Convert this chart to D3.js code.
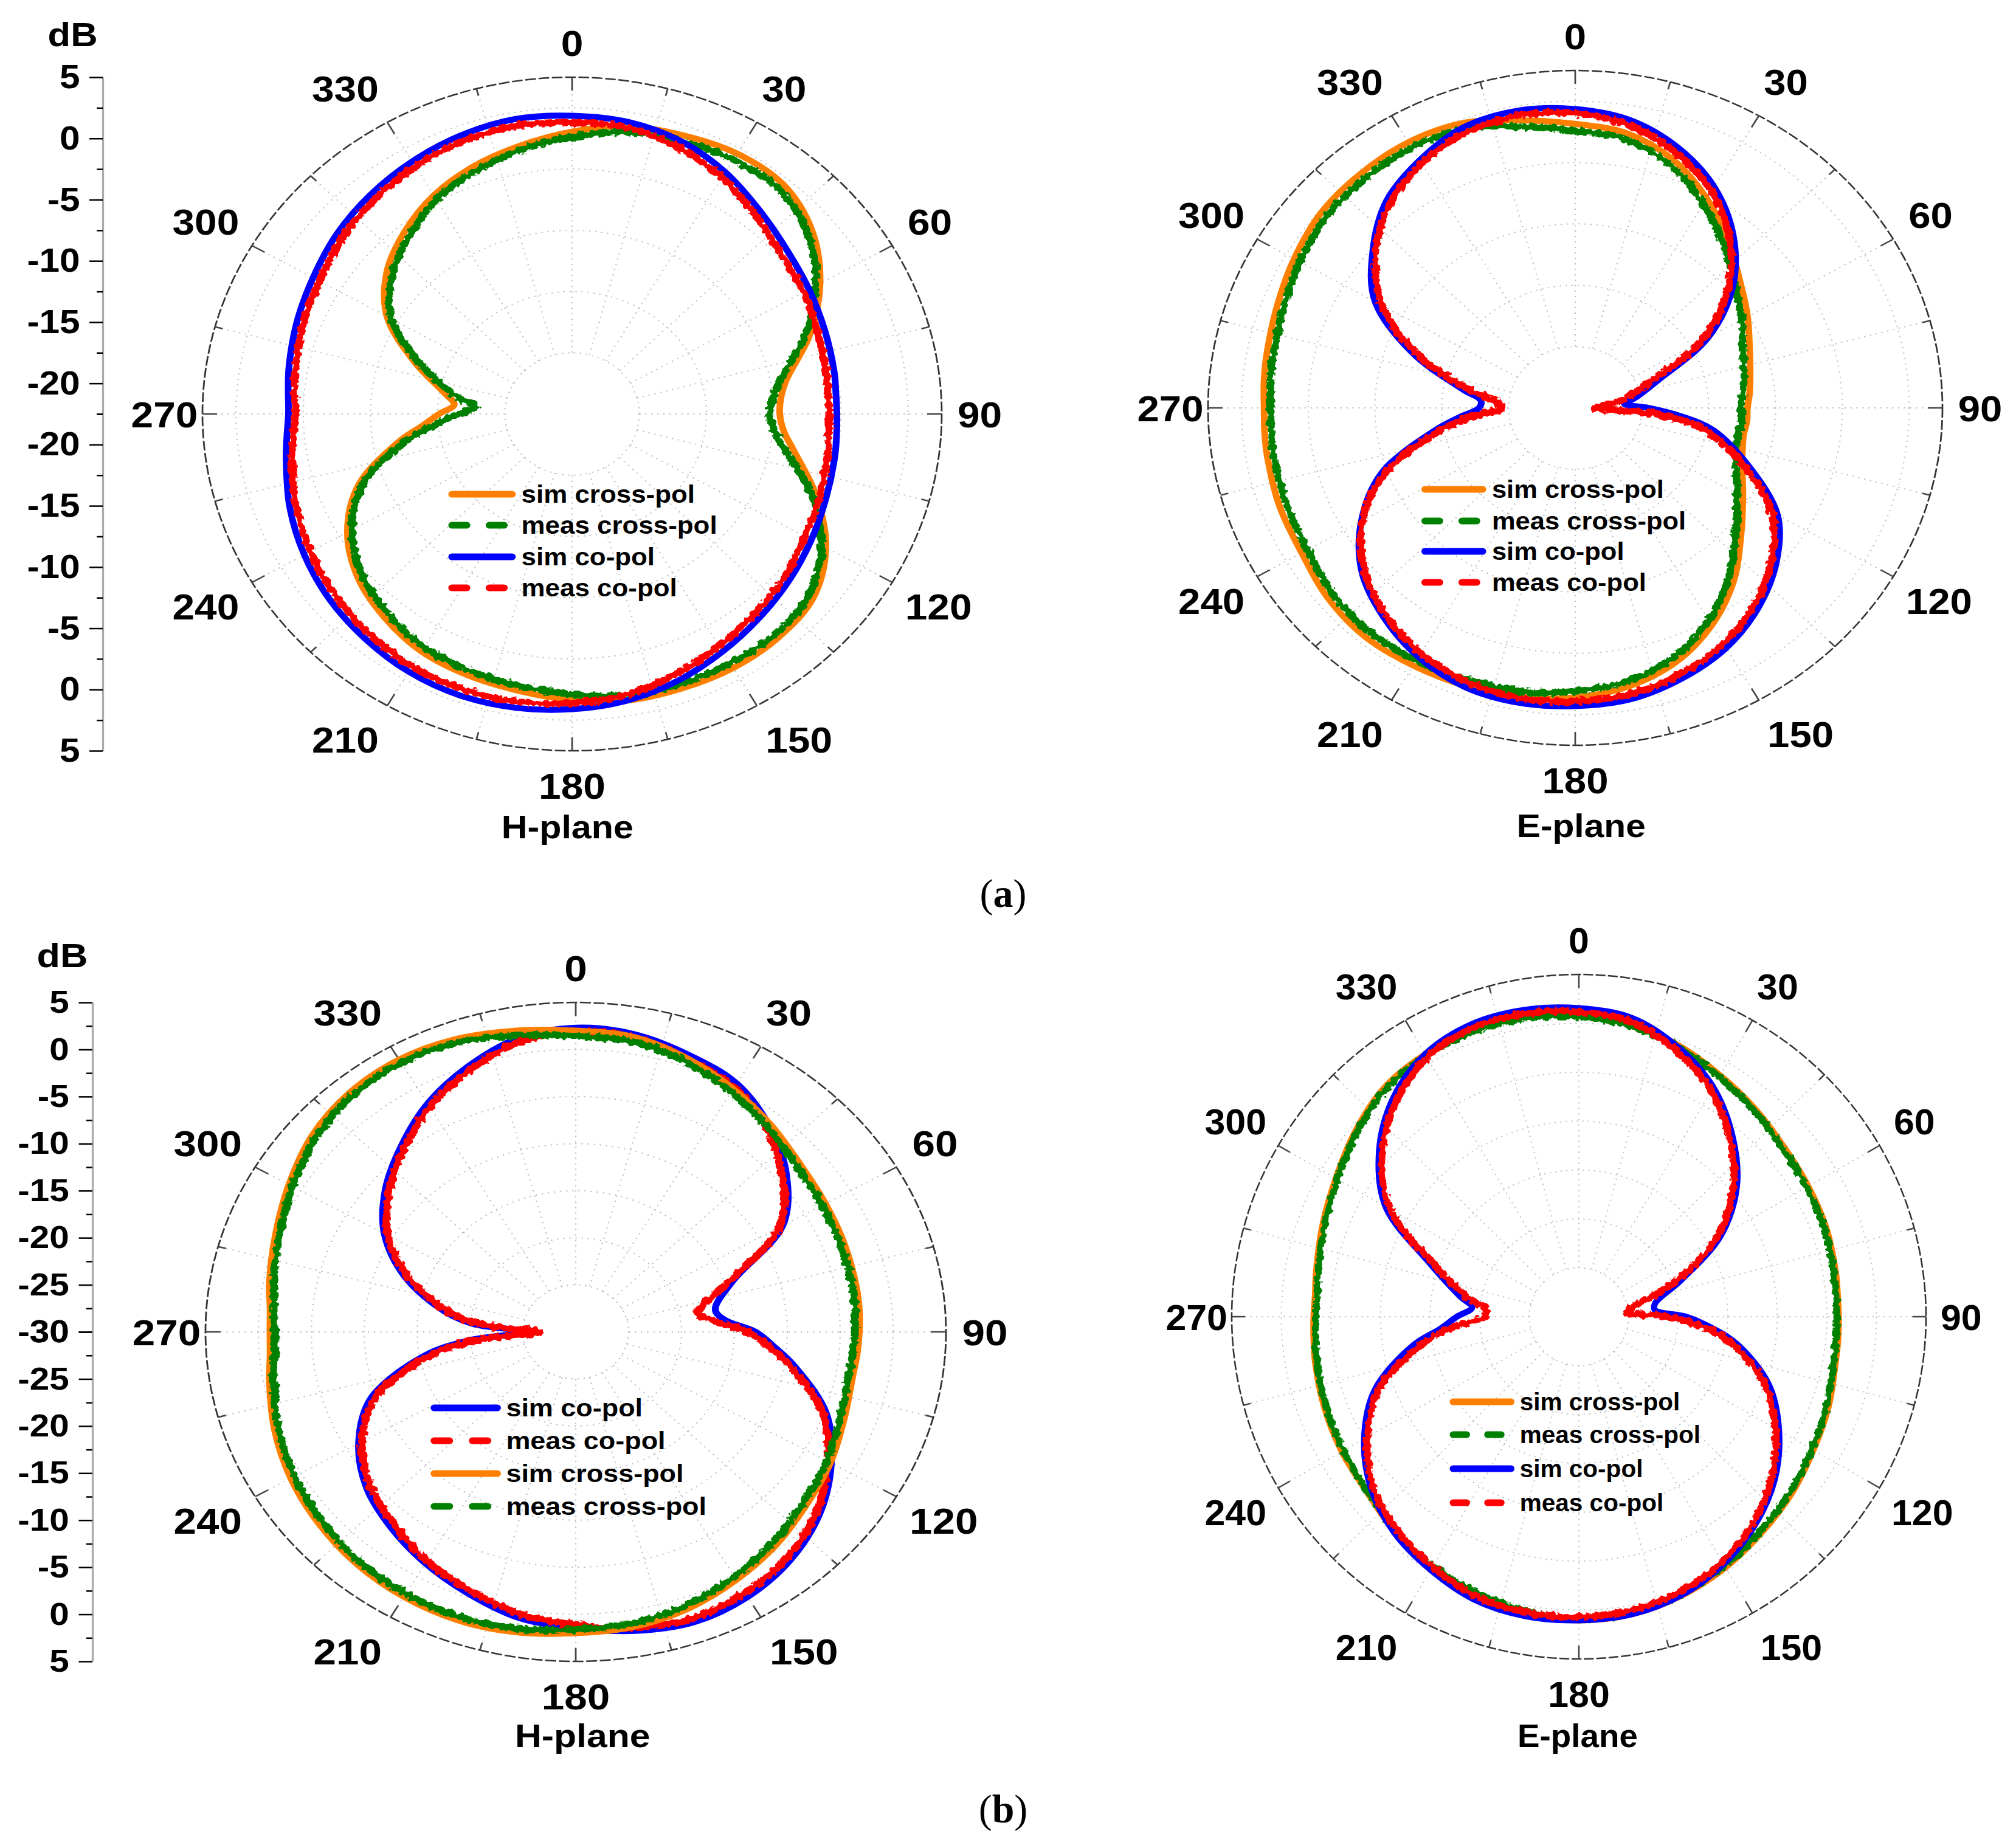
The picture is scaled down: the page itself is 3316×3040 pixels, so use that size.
<!DOCTYPE html>
<html>
<head>
<meta charset="utf-8">
<script src="https://cdn.jsdelivr.net/npm/d3@7.9.0/dist/d3.min.js"></script>
<style>
  body { margin: 0; background: #fff; }
  text { font-family: "Liberation Sans", Arial, sans-serif; font-weight: bold; fill: #000; }
  .cap { font-family: "Liberation Serif", "Times New Roman", serif; font-weight: normal; }
</style>
</head>
<body>
<svg id="chart" width="3316" height="3040"></svg>
<script>
// angles (deg) shared by every series, finer around the nulls
const angles = [0,10,20,30,40,50,60,70,80,85,90,95,100,110,120,130,140,150,160,170,180,
  190,200,210,220,230,240,250,260,265,270,275,280,290,300,310,320,330,340,350];

// (a) H-plane, dB
const aH_simCross  = [0.55,1.35,1.7,2.05,1.95,0.8,-1.2,-3.7,-6.3,-6.9,-7.05,-6.7,-5.8,-3.2,-0.7,0.9,1.35,1.45,1.35,1.25,0.85,
  0.45,0.2,-0.1,-0.8,-1.7,-3.2,-5.6,-9.4,-11.3,-12.6,-13.7,-12.9,-10.0,-6.6,-4.5,-3.1,-1.9,-1.0,-0.25];
const aH_measCross = [0.1,0.9,1.2,1.5,1.45,0.4,-1.6,-4.1,-6.8,-7.5,-7.8,-7.4,-6.5,-3.6,-1.1,0.5,1.0,1.0,0.95,0.85,0.4,
  0.05,-0.2,-0.5,-1.2,-2.1,-3.6,-6.0,-10.0,-12.2,-14.0,-15.3,-13.6,-10.5,-7.0,-5.0,-3.6,-2.3,-1.4,-0.6];
const aH_simCo     = [1.85,1.7,1.2,0.3,-0.8,-1.65,-2.15,-2.5,-2.7,-2.8,-2.8,-2.75,-2.65,-2.4,-1.95,-1.4,-0.8,-0.1,0.65,1.25,1.6,
  1.85,1.95,1.8,1.45,1.05,0.5,-0.15,-0.9,-1.2,-1.4,-1.3,-1.1,-0.7,-0.25,0.35,0.85,1.3,1.7,1.95];
const aH_measCo    = [1.3,1.25,0.65,-0.2,-1.3,-2.2,-2.6,-3.05,-3.3,-3.4,-3.35,-3.3,-3.2,-2.9,-2.5,-1.85,-1.3,-0.65,0.1,0.8,1.1,
  1.35,1.4,1.3,0.95,0.5,0.0,-0.65,-1.35,-1.7,-1.9,-1.8,-1.6,-1.2,-0.8,-0.15,0.35,0.85,1.2,1.4];

// (a) E-plane
const aE_simCross  = [0.65,0.2,-1.0,-2.8,-4.7,-6.4,-7.6,-8.6,-9.2,-9.4,-9.6,-9.6,-9.7,-9.2,-8.0,-6.3,-4.05,-2.05,-0.45,0.55,1.1,
  1.45,1.6,1.75,1.9,1.65,1.15,1.05,0.9,0.85,0.8,0.9,1.0,1.3,1.8,2.3,2.45,2.5,2.2,1.3];
const aE_measCross = [0.1,-0.3,-1.5,-3.3,-5.2,-6.9,-8.1,-9.1,-9.7,-9.9,-10.1,-10.0,-10.1,-9.7,-8.5,-6.8,-4.6,-2.5,-0.9,0.1,0.6,
  0.95,1.1,1.25,1.35,1.15,0.65,0.5,0.4,0.35,0.3,0.4,0.5,0.8,1.3,1.8,1.95,2.0,1.7,0.8];
const aE_simCo     = [1.85,1.3,0.05,-1.7,-4.1,-7.1,-11.0,-15.9,-18.0,-18.8,-17.0,-14.5,-12.0,-8.7,-5.0,-2.85,-1.2,0.1,0.95,1.6,1.8,
  1.9,1.7,0.95,-0.2,-1.65,-4.0,-7.1,-11.8,-13.8,-15.3,-15.4,-14.0,-9.6,-5.2,-2.7,-0.5,0.8,1.85,2.1];
const aE_measCo    = [1.5,0.9,-0.4,-2.1,-4.5,-7.6,-11.6,-16.8,-19.0,-20.2,-21.0,-16.2,-12.8,-9.2,-5.5,-3.3,-1.6,-0.3,0.55,1.2,1.4,
  1.5,1.25,0.6,-0.45,-1.9,-4.1,-7.5,-12.4,-14.8,-17.0,-16.6,-14.6,-10.0,-5.8,-3.0,-0.85,0.5,1.4,1.7];

// (b) H-plane
const bH_simCross  = [2.0,1.8,0.9,-0.2,-1.3,-2.3,-2.75,-2.95,-3.05,-3.1,-3.2,-3.3,-3.4,-3.0,-2.2,-1.5,-0.5,0.4,1.25,1.8,2.0,
  2.4,2.6,2.5,2.2,1.7,1.1,0.3,-0.6,-1.0,-1.1,-1.0,-0.6,0.2,1.3,2.5,3.2,3.4,3.1,2.5];
const bH_measCross = [1.4,1.3,0.5,-0.6,-1.7,-2.7,-3.1,-3.3,-3.4,-3.5,-3.6,-3.7,-3.8,-3.4,-2.6,-1.9,-0.9,0.0,0.85,1.4,1.6,
  2.0,2.2,2.1,1.8,1.3,0.7,-0.1,-1.0,-1.4,-1.5,-1.4,-1.0,-0.2,0.9,2.1,2.8,3.0,2.7,2.0];
const bH_simCo     = [2.3,2.1,1.3,0.45,-1.5,-4.0,-7.4,-14.2,-16.6,-15.8,-13.0,-11.1,-9.0,-4.8,-2.1,0.1,1.6,2.5,2.8,2.25,1.45,
  0.85,-0.4,-1.6,-2.85,-4.2,-6.3,-9.4,-15.5,-20.0,-25.0,-20.3,-17.4,-12.8,-9.1,-6.5,-4.3,-2.0,-0.05,1.65];
const bH_measCo    = [1.9,1.7,0.8,0.0,-1.9,-4.5,-7.8,-14.6,-18.3,-16.8,-13.8,-11.6,-9.5,-5.2,-2.5,-0.3,1.2,2.0,2.35,1.9,1.1,
  0.4,-0.8,-1.9,-3.3,-4.6,-6.7,-9.9,-16.2,-21.0,-26.5,-21.2,-17.9,-13.2,-9.5,-6.9,-4.7,-2.4,-0.5,1.25];

// (b) E-plane
const bE_simCross  = [0.95,0.4,-0.5,-1.5,-2.3,-3.0,-3.3,-3.45,-3.7,-3.8,-3.8,-3.75,-3.7,-3.2,-2.7,-1.95,-1.25,-0.4,0.35,0.9,1.05,
  0.8,0.25,-0.35,-1.2,-2.1,-2.4,-2.7,-3.0,-3.15,-3.25,-3.3,-3.1,-2.5,-1.7,-0.55,0.55,1.0,1.25,1.2];
const bE_measCross = [0.7,0.2,-0.7,-1.7,-2.5,-3.2,-3.5,-3.65,-3.9,-4.0,-4.0,-3.95,-3.9,-3.4,-2.9,-2.15,-1.45,-0.6,0.15,0.7,0.85,
  0.6,0.05,-0.55,-1.4,-2.2,-2.6,-2.9,-3.2,-3.35,-3.45,-3.5,-3.3,-2.7,-1.9,-0.75,0.35,0.8,1.05,1.0];
const bE_simCo     = [1.55,1.0,-0.7,-2.9,-5.9,-9.2,-13.5,-19.0,-22.2,-22.3,-19.2,-16.5,-13.8,-9.6,-6.7,-4.2,-2.3,-0.8,0.3,0.9,1.05,
  1.1,0.8,-0.1,-1.1,-2.65,-5.0,-8.1,-13.0,-16.0,-17.7,-19.2,-17.8,-14.0,-7.5,-3.7,-0.85,1.0,1.8,1.85];
const bE_measCo    = [1.2,0.6,-1.1,-3.3,-6.3,-9.7,-14.0,-19.8,-24.5,-25.2,-21.0,-17.2,-14.4,-10.1,-7.1,-4.6,-2.6,-1.1,-0.1,0.5,0.7,
  0.7,0.4,-0.5,-1.5,-2.9,-5.4,-8.6,-14.0,-17.0,-20.5,-20.6,-18.6,-14.5,-8.0,-4.1,-1.3,0.6,1.4,1.45];

const angleTicks = d3.range(0, 360, 30);
const styles = {
  simX:   { color: '#ff8000', meas: false, label: 'sim cross-pol' },
  measX:  { color: '#008000', meas: true,  label: 'meas cross-pol' },
  simCo:  { color: '#0000ff', meas: false, label: 'sim co-pol' },
  measCo: { color: '#ff0000', meas: true,  label: 'meas co-pol' },
};

const panels = [
  { cx: 941, cy: 681, rx: 608, ry: 554, min: -22.5, rings: [-17.5, -12.5, -7.5, -2.5, 2.5],
    title: 'H-plane', tx: -7, ty: 679,
    legend: { x0: -185, x1: -85, tx: -76, ys: [132, 183, 235, 286], order: ['simX', 'measX', 'simCo', 'measCo'] },
    order: ['simX', 'measX', 'simCo', 'measCo'],
    data: { simX: aH_simCross, measX: aH_measCross, simCo: aH_simCo, measCo: aH_measCo } },
  { cx: 2591, cy: 671, rx: 604, ry: 555, min: -22.5, rings: [-17.5, -12.5, -7.5, -2.5, 2.5],
    title: 'E-plane', tx: 9, ty: 687,
    legend: { x0: -232, x1: -135, tx: -126, ys: [134, 186, 236, 287], order: ['simX', 'measX', 'simCo', 'measCo'] },
    order: ['simX', 'measX', 'simCo', 'measCo'],
    data: { simX: aE_simCross, measX: aE_measCross, simCo: aE_simCo, measCo: aE_measCo } },
  { cx: 947, cy: 2191, rx: 609, ry: 542, min: -30, rings: [-25, -20, -15, -10, -5, 0],
    title: 'H-plane', tx: 10, ty: 664,
    legend: { x0: -212, x1: -110, tx: -102, ys: [125, 179, 233, 287], order: ['simCo', 'measCo', 'simX', 'measX'] },
    order: ['simCo', 'measCo', 'simX', 'measX'],
    data: { simX: bH_simCross, measX: bH_measCross, simCo: bH_simCo, measCo: bH_measCo } },
  { cx: 2597, cy: 2166, rx: 571, ry: 563, min: -30, rings: [-25, -20, -15, -10, -5, 0],
    title: 'E-plane', tx: -2, ty: 689,
    legend: { x0: -209, x1: -105, tx: -96, ys: [140, 194, 250, 306], order: ['simX', 'measX', 'simCo', 'measCo'] },
    order: ['simX', 'measX', 'simCo', 'measCo'],
    data: { simX: bE_simCross, measX: bE_measCross, simCo: bE_simCo, measCo: bE_measCo } },
];

const svg = d3.select('#chart');

// rough edge for the measured traces
const filt = svg.append('defs').append('filter').attr('id', 'rough')
  .attr('x', '-5%').attr('y', '-5%').attr('width', '110%').attr('height', '110%');
filt.append('feTurbulence').attr('type', 'fractalNoise').attr('baseFrequency', 0.13)
  .attr('numOctaves', 2).attr('seed', 4).attr('result', 'n');
filt.append('feDisplacementMap').attr('in', 'SourceGraphic').attr('in2', 'n')
  .attr('scale', 11).attr('xChannelSelector', 'R').attr('yChannelSelector', 'G');

const aScale = d3.scaleLinear().domain([0, 360]).range([0, 2 * Math.PI]);

function drawPanel(p) {
  const R = p.ry;
  const g = svg.append('g').attr('transform', `translate(${p.cx},${p.cy}) scale(${p.rx / p.ry},1)`);
  const rScale = d3.scaleLinear().domain([p.min, 5]).range([0, R]).clamp(true);

  // dotted grid
  g.append('g').selectAll('circle').data(p.rings).join('circle')
    .attr('r', (d) => rScale(d)).attr('fill', 'none')
    .attr('stroke', '#bdbdbd').attr('stroke-width', 2).attr('stroke-dasharray', '2,7');
  const r0 = rScale(p.rings[0]);
  g.append('g').selectAll('line').data(d3.range(0, 360, 15)).join('line')
    .attr('x1', (d) => d3.pointRadial(aScale(d), r0)[0]).attr('y1', (d) => d3.pointRadial(aScale(d), r0)[1])
    .attr('x2', (d) => d3.pointRadial(aScale(d), R)[0]).attr('y2', (d) => d3.pointRadial(aScale(d), R)[1])
    .attr('stroke', '#bdbdbd').attr('stroke-width', 2).attr('stroke-dasharray', '2,7');

  // outer ring + ticks
  g.append('circle').attr('r', R).attr('fill', 'none').attr('stroke', '#333')
    .attr('stroke-width', 2.5).attr('stroke-dasharray', '16,4');
  g.append('g').selectAll('line').data(d3.range(0, 360, 15)).join('line')
    .attr('x1', (d) => d3.pointRadial(aScale(d), R)[0]).attr('y1', (d) => d3.pointRadial(aScale(d), R)[1])
    .attr('x2', (d) => d3.pointRadial(aScale(d), R - (d % 30 ? 12 : 22))[0])
    .attr('y2', (d) => d3.pointRadial(aScale(d), R - (d % 30 ? 12 : 22))[1])
    .attr('stroke', '#444').attr('stroke-width', 2.5);

  // curves
  const line = d3.lineRadial()
    .angle((d, i) => aScale(angles[i]))
    .radius((d) => rScale(d))
    .curve(d3.curveCatmullRomClosed.alpha(0.5));
  p.order.forEach((key) => {
    const st = styles[key];
    g.append('path').datum(p.data[key])
      .attr('d', line).attr('fill', 'none')
      .attr('stroke', st.color).attr('stroke-width', st.meas ? 11 : 10)
      .attr('stroke-linejoin', 'round')
      .attr('filter', st.meas ? 'url(#rough)' : null);
  });

  // angle labels
  g.append('g').selectAll('text').data(angleTicks).join('text')
    .attr('x', (d) => {
      const a = aScale(d), s = String(d);
      const off = 57 + Math.cos(a) ** 2 * (s.length === 3 ? 92 : 33);
      return Math.sin(a) * (R + off);
    })
    .attr('y', (d) => {
      const a = aScale(d);
      const off = 57 + 30 * Math.sin(a) ** 2;
      return -Math.cos(a) * (R + off);
    })
    .attr('dy', '0.36em').attr('text-anchor', 'middle').attr('font-size', 60)
    .text((d) => d);

  g.append('text').attr('x', p.tx).attr('y', p.ty).attr('dy', '0.36em')
    .attr('text-anchor', 'middle').attr('font-size', 54).text(p.title);

  // legend
  const lg = g.append('g');
  p.legend.order.forEach((key, i) => {
    const st = styles[key], y = p.legend.ys[i];
    lg.append('line').attr('x1', p.legend.x0 + 5).attr('x2', p.legend.x1 - 5).attr('y1', y).attr('y2', y)
      .attr('stroke', st.color).attr('stroke-width', 11).attr('stroke-linecap', 'round')
      .attr('stroke-dasharray', st.meas ? '22,34' : null);
    lg.append('text').attr('x', p.legend.tx).attr('y', y).attr('dy', '0.34em')
      .attr('font-size', 40).text(st.label);
  });
}

panels.forEach(drawPanel);

// dB scale bars (mirrored about the pole)
function drawScale(p, axisX, major, sx, fs, labelPos) {
  const g = svg.append('g').attr('transform', `translate(${axisX},0) scale(${sx},1)`);
  const yTop = d3.scaleLinear().domain([p.min, 5]).range([p.cy, p.cy - p.ry]);
  const yBot = d3.scaleLinear().domain([p.min, 5]).range([p.cy, p.cy + p.ry]);
  const minor = d3.range(p.min, 5.01, 2.5).filter((v) => !major.includes(v));
  [yTop, yBot].forEach((sc) => {
    g.append('g').call(d3.axisLeft(sc).tickValues(major).tickSize(20).tickSizeOuter(0).tickPadding(14)
        .tickFormat((d) => String(d)))
      .call((a) => a.select('.domain').attr('stroke', '#aaa').attr('stroke-width', 3))
      .call((a) => a.selectAll('.tick line').attr('stroke', '#000').attr('stroke-width', 2.5))
      .call((a) => a.selectAll('text').attr('font-size', fs).attr('font-family', null));
    g.append('g').call(d3.axisLeft(sc).tickValues(minor).tickSize(9).tickSizeOuter(0).tickFormat(''))
      .call((a) => a.select('.domain').remove())
      .call((a) => a.selectAll('.tick line').attr('stroke', '#000').attr('stroke-width', 2.5));
  });
  g.append('text').attr('x', labelPos[0]).attr('y', labelPos[1]).attr('dy', '0.36em')
    .attr('text-anchor', 'middle').attr('font-size', 56).text('dB');
}
drawScale(panels[0], 169, [5, 0, -5, -10, -15, -20], 1.098, 55, [-45, 56]);
drawScale(panels[2], 152, [5, 0, -5, -10, -15, -20, -25, -30], 1.124, 52, [-44, 1571]);

// sub-figure captions
[['a', 1650, 1492], ['b', 1650, 2998]].forEach(([c, x, y]) => {
  const t = svg.append('text').attr('class', 'cap').attr('x', x).attr('y', y)
    .attr('text-anchor', 'middle').attr('font-size', 66);
  t.append('tspan').text('(');
  t.append('tspan').attr('font-weight', 'bold').text(c);
  t.append('tspan').text(')');
});
</script>
</body>
</html>
